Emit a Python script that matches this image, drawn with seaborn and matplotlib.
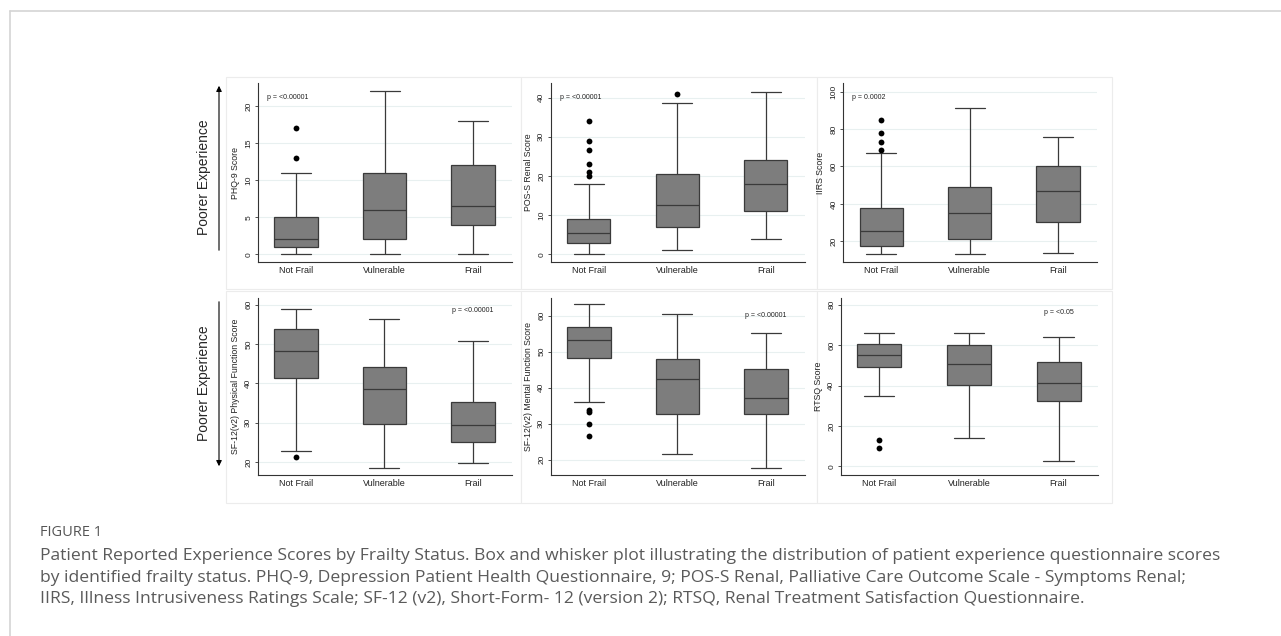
import numpy as np
import pandas as pd
import matplotlib
matplotlib.use("Agg")
import matplotlib.pyplot as plt
import matplotlib.transforms as mtransforms
from matplotlib.patches import Rectangle, FancyArrowPatch
import seaborn as sns

# ---- data (five-number summaries + outliers) ----
groups = ["Not Frail", "Vulnerable", "Frail"]

phq_low = [0, 0, 0]
phq_q1 = [1, 2, 4]
phq_med = [2, 6, 6.5]
phq_q3 = [5, 11, 12]
phq_high = [11, 22, 18]
phq_out = [[13, 17], [], []]

pos_low = [0, 1, 4]
pos_q1 = [3, 7, 11]
pos_med = [5.5, 12.5, 18]
pos_q3 = [9, 20.4, 24]
pos_high = [18, 38.6, 41.5]
pos_out = [[20, 21, 23, 26.5, 29, 34], [41], []]

iirs_low = [13, 13, 14]
iirs_q1 = [17.7, 21.1, 30.1]
iirs_med = [25.3, 35, 47.1]
iirs_q3 = [37.6, 49.2, 60.2]
iirs_high = [67, 91, 76]
iirs_out = [[69, 73, 78, 85], [], []]

sfp_low = [22.7, 18.4, 19.7]
sfp_q1 = [41.3, 29.7, 25.2]
sfp_med = [48.1, 38.5, 29.3]
sfp_q3 = [53.9, 44.2, 35.3]
sfp_high = [58.9, 56.4, 50.8]
sfp_out = [[21.3], [], []]

sfm_low = [36.1, 21.5, 17.6]
sfm_q1 = [48.2, 32.8, 32.8]
sfm_med = [53.1, 42.4, 37.1]
sfm_q3 = [56.9, 47.9, 45.3]
sfm_high = [63.1, 60.4, 55.1]
sfm_out = [[26.7, 30, 33.3, 33.8], [], []]

rtsq_low = [34.9, 13.9, 2.9]
rtsq_q1 = [49, 40.5, 32.2]
rtsq_med = [55.3, 50.8, 41.5]
rtsq_q3 = [60.6, 59.9, 51.8]
rtsq_high = [66, 66, 64]
rtsq_out = [[9.3, 12.9], [], []]

y_labels = ["PHQ-9 Score", "POS-S Renal Score", "IIRS Score",
            "SF-12(v2) Physical Function Score", "SF-12(v2) Mental Function Score", "RTSQ Score"]
p_labels = ["p = <0.00001", "p = <0.00001", "p = 0.0002",
            "p = <0.00001", "p = <0.00001", "p = <0.05"]
y_ticks = [[0, 5, 10, 15, 20], [0, 10, 20, 30, 40], [20, 40, 60, 80, 100],
           [20, 30, 40, 50, 60], [20, 30, 40, 50, 60], [0, 20, 40, 60, 80]]

caption_head = "FIGURE 1"
caption_lines = [
    "Patient Reported Experience Scores by Frailty Status. Box and whisker plot illustrating the distribution of patient experience questionnaire scores",
    "by identified frailty status. PHQ-9, Depression Patient Health Questionnaire, 9; POS-S Renal, Palliative Care Outcome Scale - Symptoms Renal;",
    "IIRS, Illness Intrusiveness Ratings Scale; SF-12 (v2), Short-Form- 12 (version 2); RTSQ, Renal Treatment Satisfaction Questionnaire.",
]


def box_frame(low, q1, med, q3, high):
    # 7 points per group reproduce the read quartiles exactly
    rows = []
    for g, lo, a, m, b, hi in zip(groups, low, q1, med, q3, high):
        for v in (lo, a, a, m, b, b, hi):
            rows.append((g, v))
    return pd.DataFrame(rows, columns=["group", "score"])


def out_frame(out):
    rows = [(g, v) for g, vals in zip(groups, out) for v in vals]
    return pd.DataFrame(rows, columns=["group", "score"])


panels = [
    (box_frame(phq_low, phq_q1, phq_med, phq_q3, phq_high), out_frame(phq_out)),
    (box_frame(pos_low, pos_q1, pos_med, pos_q3, pos_high), out_frame(pos_out)),
    (box_frame(iirs_low, iirs_q1, iirs_med, iirs_q3, iirs_high), out_frame(iirs_out)),
    (box_frame(sfp_low, sfp_q1, sfp_med, sfp_q3, sfp_high), out_frame(sfp_out)),
    (box_frame(sfm_low, sfm_q1, sfm_med, sfm_q3, sfm_high), out_frame(sfm_out)),
    (box_frame(rtsq_low, rtsq_q1, rtsq_med, rtsq_q3, rtsq_high), out_frame(rtsq_out)),
]

# ---- layout (pixel boxes on a 1281x636 canvas) ----
W, H = 1281, 636
sns.set_style("white")
plt.rcParams["font.family"] = ["Liberation Sans", "DejaVu Sans"]

fig = plt.figure(figsize=(W / 100, H / 100), dpi=100)


def fx(px):
    return px / W


def fy(py):
    return 1 - py / H


# page border lines
fig.add_artist(plt.Line2D([fx(10), 1], [fy(11), fy(11)], color="#d4d4d4", lw=1.2))
fig.add_artist(plt.Line2D([fx(10), fx(10)], [fy(11), 0], color="#d4d4d4", lw=1.2))

# panel frames
frames_x = [(226, 521), (521, 817), (817, 1112)]
frames_y = [(77, 289), (291, 503)]
for (y0, y1) in frames_y:
    for (x0, x1) in frames_x:
        fig.add_artist(Rectangle((fx(x0), fy(y1)), fx(x1) - fx(x0), fy(y0) - fy(y1),
                                 transform=fig.transFigure, facecolor="white",
                                 edgecolor="#ececec", lw=0.8, zorder=0))

axes_x = [(258, 512), (550.7, 804.7), (843.3, 1097),
          (257.7, 512), (550.7, 805), (840.7, 1098)]
axes_y = [(83, 262.3)] * 3 + [(298, 474.7)] * 3
y_lims = [(-1.08, 23.1), (-2.04, 43.7), (8.78, 104.6),
          (16.78, 61.7), (15.83, 64.9), (-4.08, 83.3)]
p_pos = [(0.035, 0.92), (0.035, 0.92), (0.035, 0.92),
         (None, 0.928), (None, 0.90), (None, 0.919)]

for i, (box_df, out_df) in enumerate(panels):
    (x0, x1), (y0, y1) = axes_x[i], axes_y[i]
    ax = fig.add_axes([fx(x0), fy(y1), fx(x1) - fx(x0), fy(y0) - fy(y1)])
    ax.set_facecolor("none")
    sns.boxplot(data=box_df, x="group", y="score", order=groups, ax=ax,
                whis=(0, 100), showfliers=False, width=0.49, color="#7d7d7d",
                saturation=1, linecolor="#3a3a3a", linewidth=0.9, capwidths=0.34)
    sns.stripplot(data=out_df, x="group", y="score", order=groups, ax=ax,
                  jitter=False, color="black", size=4.2, zorder=3)
    ax.set_xlim(-0.43, 2.44)
    ax.set_ylim(*y_lims[i])
    ax.set_yticks(y_ticks[i])
    ax.yaxis.grid(True, color="#e8f0f0", lw=0.8)
    ax.set_axisbelow(True)
    for s in ["top", "right"]:
        ax.spines[s].set_visible(False)
    for s in ["left", "bottom"]:
        ax.spines[s].set_color("#333333")
        ax.spines[s].set_linewidth(0.8)
    ax.tick_params(axis="y", labelsize=6, length=2.5, width=0.6, color="#333333",
                   labelrotation=90, pad=1.5, left=True, labelcolor="#222222")
    for lab in ax.get_yticklabels():
        lab.set_va("center")
    ax.tick_params(axis="x", labelsize=6.5, length=0, pad=3, labelcolor="#222222")
    ax.set_xlabel("")
    ax.set_ylabel(y_labels[i], fontsize=6.3, color="#222222")
    ax.yaxis.set_label_coords(-18 / (x1 - x0), 0.5)

    px, py = p_pos[i]
    if px is None:
        trans = mtransforms.blended_transform_factory(ax.transData, ax.transAxes)
        ax.text(2, py, p_labels[i], transform=trans, fontsize=5, ha="center", va="center", color="#222222")
    else:
        ax.text(px, py, p_labels[i], transform=ax.transAxes, fontsize=5, ha="left", va="center", color="#222222")

# side arrows and labels
fig.add_artist(FancyArrowPatch((fx(219), fy(253)), (fx(219), fy(83)), transform=fig.transFigure,
                               arrowstyle="-|>", mutation_scale=8, lw=0.8, color="black"))
fig.add_artist(FancyArrowPatch((fx(219), fy(299)), (fx(219), fy(469)), transform=fig.transFigure,
                               arrowstyle="-|>", mutation_scale=8, lw=0.8, color="black"))
fig.text(fx(204), fy(177), "Poorer Experience", rotation=90, fontsize=10, ha="center", va="center")
fig.text(fx(204), fy(383), "Poorer Experience", rotation=90, fontsize=10, ha="center", va="center")

# caption
fig.text(fx(40), fy(533), caption_head, fontsize=10.5, color="#555555", va="center",
         family=["Open Sans", "DejaVu Sans"])
for k, line in enumerate(caption_lines):
    fig.text(fx(40), fy(556 + 21.5 * k), line, fontsize=12.6, color="#5a5a5a", va="center",
             family=["Open Sans", "DejaVu Sans"])

fig.savefig("out.png", dpi=100)
